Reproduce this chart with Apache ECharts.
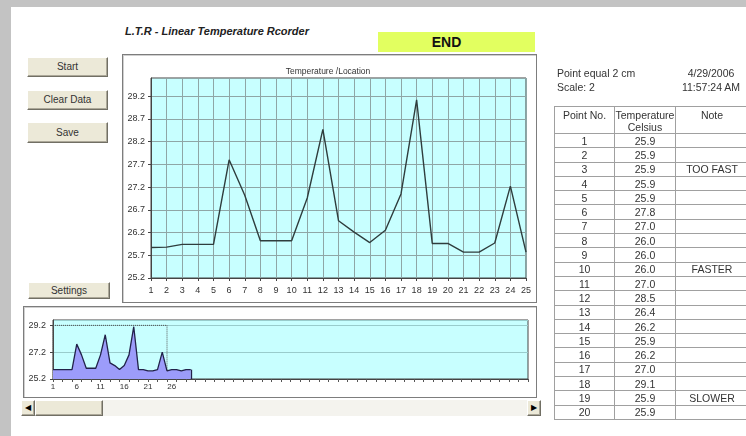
<!DOCTYPE html>
<html>
<head>
<meta charset="utf-8">
<script src="https://cdn.jsdelivr.net/npm/echarts@6/dist/echarts.min.js"></script>
<style>
  html, body { margin: 0; padding: 0; background: #fff; }
  body { width: 746px; height: 436px; position: relative; overflow: hidden;
         font-family: 'Liberation Sans', Arial, sans-serif; color: #333; }
  .abs { position: absolute; }
  .btn { position: absolute; background: #ece9d8; font-size: 10px; color: #333; text-align: center;
         box-sizing: border-box; border: 1px solid; border-color: #fff #716f64 #716f64 #fff;
         box-shadow: inset -1px -1px 0 #aca899; }
  .frame { position: absolute; box-sizing: border-box; border: 1px solid #7d7d7d;
           box-shadow: inset 1px 1px 0 #d0d0d0; background: #fff; }
  #tbl { position: absolute; left: 554px; top: 106px; width: 194px; border-collapse: collapse;
         table-layout: fixed; font-size: 10.5px; color: #333; }
  #tbl td, #tbl th { border: 1px solid #a0a0a0; padding: 0; text-align: center; font-weight: normal;
                     line-height: 12px; }
  #tbl th { vertical-align: top; padding-top: 2px; }
</style>
</head>
<body>
<div class="abs" style="left:0;top:0;width:746px;height:7px;background:#c3c3c3"></div>
<div class="abs" style="left:0;top:0;width:11px;height:436px;background:#c3c3c3"></div>

<div class="abs" style="left:125px;top:25px;font-size:11px;font-weight:bold;font-style:italic;color:#222">L.T.R - Linear Temperature Rcorder</div>
<div class="abs" style="left:378px;top:32px;width:157px;height:20px;background:#e2ff60;font-size:14px;font-weight:bold;line-height:20px;text-align:center;color:#111"><span style="position:relative;left:-10px">END</span></div>

<div class="btn" style="left:27px;top:57px;width:81px;height:20px;line-height:18px">Start</div>
<div class="btn" style="left:27px;top:90px;width:81px;height:20px;line-height:18px">Clear Data</div>
<div class="btn" style="left:27px;top:122px;width:81px;height:21px;line-height:19px">Save</div>
<div class="btn" style="left:28px;top:282px;width:82px;height:17px;line-height:15px">Settings</div>

<div class="frame" style="left:122px;top:54px;width:415px;height:249px"></div>
<div class="frame" style="left:23px;top:306px;width:514px;height:92px"></div>

<div id="chart" class="abs" style="left:0;top:0;width:746px;height:436px"></div>

<div class="abs" style="left:21px;top:400px;width:520px;height:16px;background:#f4f3ee"></div>
<div class="btn" style="left:21px;top:400px;width:14px;height:16px;font-size:8px;line-height:14px;color:#000">&#9664;</div>
<div class="btn" style="left:35px;top:400px;width:68px;height:16px"></div>
<div class="btn" style="left:527px;top:400px;width:14px;height:16px;font-size:8px;line-height:14px;color:#000">&#9654;</div>

<div class="abs" style="left:557px;top:66px;font-size:10.5px;line-height:14px">Point equal 2 cm<br>Scale: 2</div>
<div class="abs" style="left:676px;top:66px;width:70px;font-size:10.5px;line-height:14px;text-align:center">4/29/2006<br>11:57:24 AM</div>

<table id="tbl">
  <colgroup><col style="width:60px"><col style="width:61px"><col style="width:73px"></colgroup>
  <thead><tr style="height:27px"><th>Point No.</th><th>Temperature<br>Celsius</th><th>Note</th></tr></thead>
  <tbody id="tbody"></tbody>
</table>

<script>
// main chart: first 25 recorded points
const pointNo = ['1', '2', '3', '4', '5', '6', '7', '8', '9', '10', '11', '12', '13',
                 '14', '15', '16', '17', '18', '19', '20', '21', '22', '23', '24', '25'];
const temps = [25.87, 25.88, 25.94, 25.94, 25.94, 27.8, 27.02, 26.02, 26.02, 26.02, 26.96, 28.47, 26.46,
               26.21, 25.98, 26.25, 27.05, 29.12, 25.96, 25.96, 25.77, 25.77, 25.97, 27.22, 25.77];

// overview strip: whole recording so far (30 points) on a 101 point axis
const overviewPoints = Array.from({ length: 101 }, (_, i) => String(i + 1));
const overviewTemps = [25.9, 25.9, 25.9, 25.9, 25.9, 27.8, 27.0, 26.0, 26.0, 26.0, 27.0, 28.5, 26.4, 26.2, 25.9,
                       26.2, 27.0, 29.1, 25.9, 25.9, 25.8, 25.8, 25.9, 27.2, 25.8, 25.9, 25.9, 25.8, 25.9, 25.9];
const windowStart = '1', windowEnd = '25', windowTop = 29.2;

// table on the right
const tableNo = [1, 2, 3, 4, 5, 6, 7, 8, 9, 10, 11, 12, 13, 14, 15, 16, 17, 18, 19, 20];
const tableTemps = ['25.9', '25.9', '25.9', '25.9', '25.9', '27.8', '27.0', '26.0', '26.0', '26.0',
                    '27.0', '28.5', '26.4', '26.2', '25.9', '26.2', '27.0', '29.1', '25.9', '25.9'];
const tableNotes = ['', '', 'TOO FAST', '', '', '', '', '', '', 'FASTER',
                    '', '', '', '', '', '', '', '', 'SLOWER', ''];

const tbody = document.getElementById('tbody');
tableNo.forEach((n, i) => {
  const tr = document.createElement('tr');
  tr.style.height = '14.3px';
  [n, tableTemps[i], tableNotes[i]].forEach((v) => {
    const td = document.createElement('td');
    td.textContent = v;
    tr.appendChild(td);
  });
  tbody.appendChild(tr);
});

const font = 'Liberation Sans';
const gridColor = '#8fa6a6';
const lastIdx = overviewTemps.length - 1;

const chart = echarts.init(document.getElementById('chart'));
chart.setOption({
  animation: false,
  title: {
    text: 'Temperature /Location', left: 323, top: 62, textAlign: 'center',
    textStyle: { fontSize: 8.5, fontWeight: 'normal', color: '#333', fontFamily: font },
  },
  grid: [
    { left: 151, top: 78, width: 375, height: 200, show: true, backgroundColor: '#c8ffff',
      borderColor: '#444', borderWidth: 1, outerBoundsMode: 'none' },
    { left: 53, top: 320, width: 475, height: 59, show: true, backgroundColor: '#c8ffff',
      borderColor: '#444', borderWidth: 1, outerBoundsMode: 'none' },
  ],
  xAxis: [
    {
      gridIndex: 0, type: 'category', data: pointNo, boundaryGap: false,
      axisLine: { lineStyle: { color: '#444' } },
      axisTick: { show: true, length: 3, interval: 0, lineStyle: { color: '#444' } },
      axisLabel: { interval: 0, margin: 8, fontSize: 9, color: '#333', fontFamily: font },
      splitLine: { show: true, interval: 0, lineStyle: { color: gridColor, width: 1 } },
    },
    {
      gridIndex: 1, type: 'category', data: overviewPoints, boundaryGap: false,
      axisLine: { lineStyle: { color: '#444' } },
      axisTick: { show: true, length: 3, interval: 1, lineStyle: { color: '#555' } },
      axisLabel: { interval: (i) => i % 5 === 0 && i <= 25, margin: 4, fontSize: 8, color: '#333', fontFamily: font },
      splitLine: { show: false },
    },
  ],
  yAxis: [
    {
      gridIndex: 0, type: 'value', min: 25.2, max: 29.6, interval: 0.5,
      axisLine: { show: true, lineStyle: { color: '#444' } },
      axisTick: { show: true, length: 3, lineStyle: { color: '#444' } },
      axisLabel: { margin: 6, fontSize: 9, color: '#333', fontFamily: font, showMaxLabel: false,
                   formatter: (v) => v.toFixed(1) },
      splitLine: { show: true, lineStyle: { color: gridColor, width: 1 } },
    },
    {
      gridIndex: 1, type: 'value', min: 25.2, max: 29.6, interval: 2,
      axisLine: { show: true, lineStyle: { color: '#444' } },
      axisTick: { show: true, length: 3, lineStyle: { color: '#444' } },
      axisLabel: { margin: 7, fontSize: 9, color: '#333', fontFamily: font, showMaxLabel: false,
                   formatter: (v) => v.toFixed(1) },
      splitLine: { show: true, lineStyle: { color: '#99cccc', width: 1 } },
    },
  ],
  series: [
    {
      type: 'line', xAxisIndex: 0, yAxisIndex: 0, data: temps, showSymbol: false,
      lineStyle: { color: '#2f3d3d', width: 1.4 },
    },
    {
      type: 'line', xAxisIndex: 1, yAxisIndex: 1, data: overviewTemps, showSymbol: false,
      lineStyle: { color: '#22224a', width: 1.3 },
      areaStyle: { color: '#9c9cfa', opacity: 1, origin: 'start' },
      markArea: {
        silent: true, label: { show: false },
        itemStyle: { color: 'rgba(0,0,0,0)', borderColor: '#555', borderWidth: 1, borderType: 'dotted' },
        data: [[{ xAxis: windowStart, yAxis: windowTop }, { xAxis: windowEnd, yAxis: 25.2 }]],
      },
      markLine: {
        silent: true, symbol: 'none', label: { show: false },
        lineStyle: { color: '#22224a', width: 1.3, type: 'solid' },
        data: [[{ coord: [overviewPoints[lastIdx], 25.2] }, { coord: [overviewPoints[lastIdx], overviewTemps[lastIdx]] }]],
      },
    },
  ],
});
</script>
</body>
</html>
